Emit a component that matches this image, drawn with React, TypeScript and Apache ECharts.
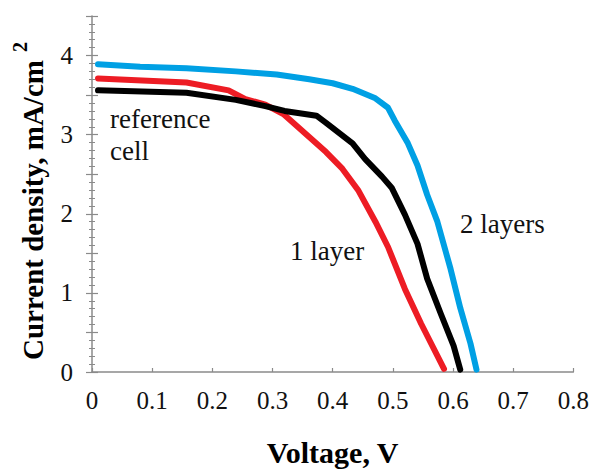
import React, { useEffect, useRef } from "react";
import * as echarts from "echarts";

// 2 layers (blue)
const voltage2Layers = [0.01, 0.08, 0.157, 0.239, 0.307, 0.361, 0.4, 0.433, 0.471, 0.492, 0.503, 0.525, 0.541, 0.557, 0.574, 0.596, 0.612, 0.629, 0.639];
const current2Layers = [3.89, 3.86, 3.84, 3.8, 3.76, 3.7, 3.65, 3.58, 3.46, 3.34, 3.18, 2.89, 2.61, 2.24, 1.9, 1.3, 0.81, 0.36, 0.03];

// reference cell (black)
const voltageRef = [0.01, 0.157, 0.239, 0.288, 0.32, 0.373, 0.389, 0.433, 0.454, 0.482, 0.498, 0.52, 0.541, 0.557, 0.58, 0.601, 0.612];
const currentRef = [3.56, 3.53, 3.44, 3.36, 3.3, 3.24, 3.15, 2.89, 2.69, 2.47, 2.33, 1.99, 1.62, 1.18, 0.73, 0.33, 0.03];

// 1 layer (red)
const voltage1Layer = [0.01, 0.157, 0.227, 0.255, 0.288, 0.318, 0.361, 0.389, 0.416, 0.443, 0.471, 0.492, 0.52, 0.547, 0.585];
const current1Layer = [3.71, 3.66, 3.56, 3.45, 3.38, 3.26, 2.97, 2.78, 2.57, 2.29, 1.9, 1.58, 1.05, 0.61, 0.04];

const xTitle = "Voltage, V";
const yTitle = "Current density, mA/cm";
const yTitleSup = "2";
const labelRef1 = "reference";
const labelRef2 = "cell";
const label1 = "1 layer";
const label2 = "2 layers";

const pairs = (xs: number[], ys: number[]) => xs.map((x, i) => [x, ys[i]]);

const SERIF = "'Liberation Serif', 'Times New Roman', serif";

export default function App() {
  const ref = useRef<HTMLDivElement>(null);
  useEffect(() => {
    if (!ref.current) return;
    const chart = echarts.init(ref.current, null, { renderer: "svg" });
    const axisColor = "#8a8a8a";
    const lineStyle = (color: string) => ({ color, width: 6, cap: "round", join: "round" });
    chart.setOption({
      animation: false,
      backgroundColor: "#ffffff",
      grid: { left: 92, right: 10, top: 16, bottom: 85, containLabel: false },
      xAxis: {
        type: "value",
        min: 0,
        max: 0.8,
        interval: 0.1,
        name: xTitle,
        nameLocation: "middle",
        nameGap: 65,
        nameTextStyle: { fontFamily: SERIF, fontSize: 30, fontWeight: "bold", color: "#000" },
        axisLine: { show: true, lineStyle: { color: axisColor, width: 1.5 } },
        axisTick: { show: true, inside: true, length: 4, lineStyle: { color: axisColor, width: 1.2 } },
        axisLabel: {
          margin: 16,
          fontFamily: SERIF,
          fontSize: 25,
          color: "#111",
          formatter: (v: number) => String(Math.round(v * 10) / 10),
        },
        splitLine: { show: false },
      },
      yAxis: [
        {
          type: "value",
          min: 0,
          max: 4.5,
          interval: 0.5,
          position: "left",
          axisLine: { show: true, lineStyle: { color: axisColor, width: 1.5 } },
          axisTick: { show: true, length: 6, lineStyle: { color: axisColor, width: 1.2 } },
          minorTick: { show: true, splitNumber: 5, length: 3, lineStyle: { color: axisColor, width: 1 } },
          axisLabel: {
            margin: 19,
            fontFamily: SERIF,
            fontSize: 25,
            color: "#111",
            formatter: (v: number) => (Math.abs(v - Math.round(v)) < 1e-6 && v < 4.4 ? String(Math.round(v)) : ""),
          },
          splitLine: { show: false },
        },
        {
          type: "value",
          min: 0,
          max: 4.5,
          interval: 0.5,
          position: "left",
          axisLine: { show: false },
          axisTick: { show: true, inside: true, length: 6, lineStyle: { color: axisColor, width: 1.2 } },
          minorTick: { show: true, splitNumber: 5, length: 3, lineStyle: { color: axisColor, width: 1 } },
          axisLabel: { show: false },
          splitLine: { show: false },
        },
      ],
      series: [
        {
          name: "1 layer",
          type: "line",
          showSymbol: false,
          lineStyle: lineStyle("#ED1C24"),
          data: pairs(voltage1Layer, current1Layer),
        },
        {
          name: "reference cell",
          type: "line",
          showSymbol: false,
          lineStyle: lineStyle("#000000"),
          data: pairs(voltageRef, currentRef),
        },
        {
          name: "2 layers",
          type: "line",
          showSymbol: false,
          lineStyle: lineStyle("#00A0E4"),
          data: pairs(voltage2Layers, current2Layers),
        },
      ],
      graphic: [
        {
          type: "text",
          x: 33,
          y: 210,
          rotation: Math.PI / 2,
          style: {
            text: yTitle,
            fontFamily: SERIF,
            fontSize: 29,
            fontWeight: "bold",
            fill: "#000",
            align: "center",
            verticalAlign: "middle",
          },
        },
        {
          type: "text",
          x: 20,
          y: 47,
          rotation: Math.PI / 2,
          style: {
            text: yTitleSup,
            fontFamily: SERIF,
            fontSize: 20,
            fontWeight: "bold",
            fill: "#000",
            align: "center",
            verticalAlign: "middle",
          },
        },
        {
          type: "text",
          x: 110,
          y: 119,
          style: { text: labelRef1, fontFamily: SERIF, fontSize: 27, fill: "#111", align: "left", verticalAlign: "middle" },
        },
        {
          type: "text",
          x: 110,
          y: 151,
          style: { text: labelRef2, fontFamily: SERIF, fontSize: 27, fill: "#111", align: "left", verticalAlign: "middle" },
        },
        {
          type: "text",
          x: 290,
          y: 251,
          style: { text: label1, fontFamily: SERIF, fontSize: 27, fill: "#111", align: "left", verticalAlign: "middle" },
        },
        {
          type: "text",
          x: 460,
          y: 224,
          style: { text: label2, fontFamily: SERIF, fontSize: 27, fill: "#111", align: "left", verticalAlign: "middle" },
        },
      ],
    });
    return () => chart.dispose();
  }, []);
  return (
    <div
      ref={ref}
      style={{ position: "fixed", left: 0, top: 0, width: 592, height: 472, background: "#fff" }}
    />
  );
}
